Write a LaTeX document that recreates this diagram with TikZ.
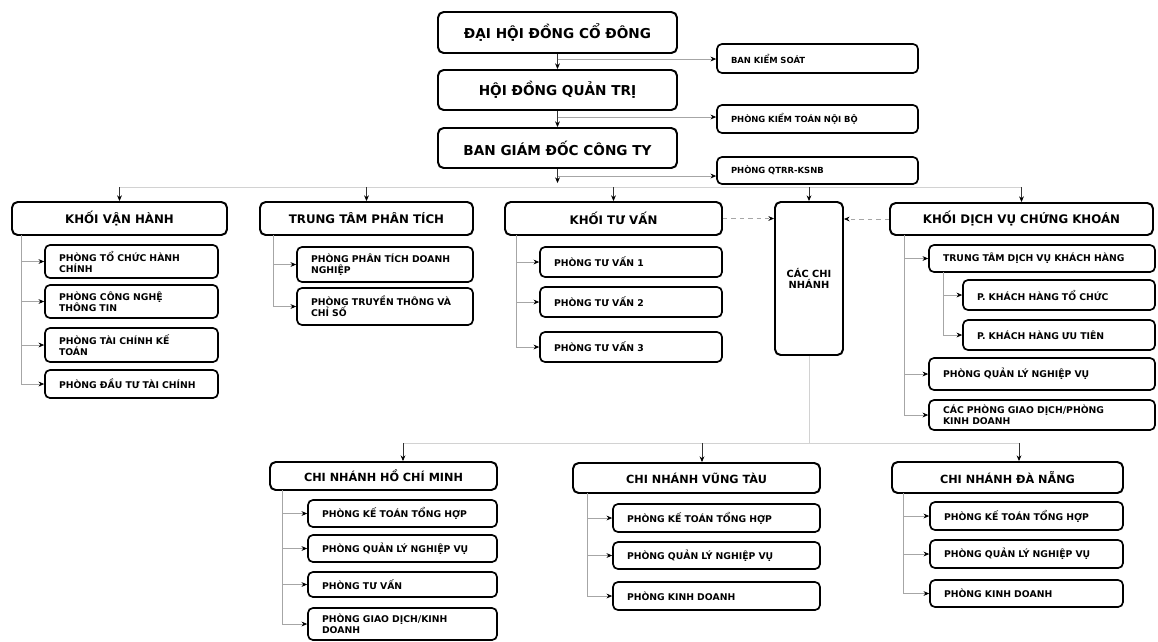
\documentclass[tikz,border=0pt]{standalone}
\usepackage{fontspec}
\setmainfont{DejaVu Sans}
\usetikzlibrary{arrows.meta}

\tikzset{
  unitbox/.style 2 args={draw=black, line width=1.4pt, rounded corners=4pt, fill=white,
    minimum width=#1*0.025cm, minimum height=#2*0.025cm, inner sep=0pt, align=center,
    font=\bfseries\fontsize{8.4}{9.6}\selectfont},
  bigbox/.style 2 args={unitbox={#1}{#2}, font=\bfseries\fontsize{9.7}{11}\selectfont},
  subbox/.style 2 args={draw=black, line width=1.2pt, rounded corners=3.5pt, fill=white,
    text width=#1*0.025cm-0.7cm, minimum height=#2*0.025cm, inner xsep=0.35cm, inner ysep=0pt,
    align=left, font=\bfseries\fontsize{6.6}{7.8}\selectfont},
  small/.style={font=\bfseries\fontsize{6}{7}\selectfont},
  arr/.style={-{Stealth[length=4pt,width=3.4pt,color=black]}, line width=0.5pt, gray!70},
  stub/.style={arr, draw=black!80},
  lnk/.style={line width=0.5pt, gray!70},
  bus/.style={line width=0.6pt, gray!35}
}

\begin{document}
\begin{tikzpicture}[x=0.025cm, y=-0.025cm]
\fill[white] (0,0) rectangle (1158,641);
\useasboundingbox (0,0) rectangle (1158,641);

% top of the company
\node[bigbox={239}{41}] (dhcd) at (557.5,32.5) {ĐẠI HỘI ĐỒNG CỔ ĐÔNG};
\node[bigbox={239}{40}] (hdqt) at (557.5,90) {HỘI ĐỒNG QUẢN TRỊ};
\node[bigbox={239}{40}] (bgd) at (557.5,148) {BAN GIÁM ĐỐC CÔNG TY};

\node[subbox={201}{29}, small] (bks) at (817.5,58.5) {BAN KIỂM SOÁT};
\node[subbox={201}{28}, small] (ktnb) at (817.5,119) {PHÒNG KIỂM TOÁN NỘI BỘ};
\node[subbox={201}{27}, small] (qtrr) at (817.5,170.5) {PHÒNG QTRR-KSNB};

\coordinate (t1) at (557.5,59);
\coordinate (t2) at (557.5,117);
\coordinate (t3) at (557.5,176);
\draw[stub] (dhcd) -- (hdqt);
\draw[stub] (hdqt) -- (bgd);
\draw[stub] (bgd.south) -- (557.5,183);
\draw[arr] (t1) -- (t1 -| bks.west);
\draw[arr] (t2) -- (t2 -| ktnb.west);
\draw[arr] (t3) -- (t3 -| qtrr.west);

% blocks
\node[unitbox={215}{33}] (kvh) at (119.5,218.5) {KHỐI VẬN HÀNH};
\node[unitbox={213}{33}] (ttpt) at (366.5,218.5) {TRUNG TÂM PHÂN TÍCH};
\node[unitbox={217}{33}] (ktv) at (613.5,218.5) {KHỐI TƯ VẤN};
\node[unitbox={68}{153}, font=\bfseries\fontsize{7}{8.4}\selectfont] (ccn) at (809,278.5) {CÁC CHI\\NHÁNH};
\node[unitbox={263}{32}] (kdv) at (1021.5,219) {KHỐI DỊCH VỤ CHỨNG KHOÁN};

\coordinate (bus) at (0,187);
\draw[bus] (kvh.north |- bus) -- (kdv.north |- bus);
\foreach \n in {kvh,ttpt,ktv,ccn,kdv}
  \draw[stub] (\n.north |- bus) -- (\n.north);

\draw[arr, dashed] (ktv.east) -- (ktv.east -| ccn.west);
\draw[arr, dashed] (kdv.west) -- (kdv.west -| ccn.east);

% khoi van hanh
\node[subbox={173}{33}] (kvh1) at (131.5,261.5) {PHÒNG TỔ CHỨC HÀNH\\CHÍNH};
\node[subbox={173}{33}] (kvh2) at (131.5,301.5) {PHÒNG CÔNG NGHỆ\\THÔNG TIN};
\node[subbox={173}{34}] (kvh3) at (131.5,345) {PHÒNG TÀI CHÍNH KẾ\\TOÁN};
\node[subbox={173}{28}] (kvh4) at (131.5,384) {PHÒNG ĐẦU TƯ TÀI CHÍNH};
\coordinate (kvhL) at (21,235);
\draw[lnk] (kvhL) -- (kvhL |- kvh4);
\foreach \s in {kvh1,kvh2,kvh3,kvh4}
  \draw[arr] (kvhL |- \s) -- (\s.west);

% trung tam phan tich
\node[subbox={176}{35}] (pt1) at (385,264.5) {PHÒNG PHÂN TÍCH DOANH\\NGHIỆP};
\node[subbox={176}{37}] (pt2) at (385,306.5) {PHÒNG TRUYỀN THÔNG VÀ\\CHỈ SỐ};
\coordinate (ptL) at (273,235);
\draw[lnk] (ptL) -- (ptL |- pt2);
\foreach \s in {pt1,pt2}
  \draw[arr] (ptL |- \s) -- (\s.west);

% khoi tu van
\node[subbox={182}{30}] (tv1) at (631,262) {PHÒNG TƯ VẤN 1};
\node[subbox={182}{30}] (tv2) at (631,302) {PHÒNG TƯ VẤN 2};
\node[subbox={182}{30}] (tv3) at (631,347) {PHÒNG TƯ VẤN 3};
\coordinate (tvL) at (516,235);
\draw[lnk] (tvL) -- (tvL |- tv3);
\foreach \s in {tv1,tv2,tv3}
  \draw[arr] (tvL |- \s) -- (\s.west);

% khoi dich vu chung khoan
\node[subbox={226}{27}] (dv1) at (1042,258.5) {TRUNG TÂM DỊCH VỤ KHÁCH HÀNG};
\node[subbox={192}{30}] (dv2) at (1059,295) {P. KHÁCH HÀNG TỔ CHỨC};
\node[subbox={192}{30}] (dv3) at (1059,335) {P. KHÁCH HÀNG ƯU TIÊN};
\node[subbox={226}{32}] (dv4) at (1042,374) {PHÒNG QUẢN LÝ NGHIỆP VỤ};
\node[subbox={226}{30}] (dv5) at (1042,415) {CÁC PHÒNG GIAO DỊCH/PHÒNG\\KINH DOANH};
\coordinate (dvL) at (904,235);
\draw[lnk] (dvL) -- (dvL |- dv5);
\foreach \s in {dv1,dv4,dv5}
  \draw[arr] (dvL |- \s) -- (\s.west);
\coordinate (khL) at (943,272);
\draw[lnk] (khL) -- (khL |- dv3);
\foreach \s in {dv2,dv3}
  \draw[arr] (khL |- \s) -- (\s.west);

% chi nhanh
\coordinate (bot) at (0,443);
\coordinate (d1) at (403,443);
\coordinate (d2) at (702,443);
\coordinate (d3) at (1019,443);
\draw[bus] (ccn.south) -- (ccn.south |- bot);
\draw[bus] (d1) -- (d3);

\node[unitbox={227}{28}, font=\bfseries\fontsize{8}{9}\selectfont] (hcm) at (383.5,476) {CHI NHÁNH HỒ CHÍ MINH};
\node[unitbox={247}{30}, font=\bfseries\fontsize{8}{9}\selectfont] (vt) at (696.5,478) {CHI NHÁNH VŨNG TÀU};
\node[unitbox={231}{31}, font=\bfseries\fontsize{8}{9}\selectfont] (dn) at (1007.5,477.5) {CHI NHÁNH ĐÀ NẴNG};
\draw[stub] (d1) -- (d1 |- hcm.north);
\draw[stub] (d2) -- (d2 |- vt.north);
\draw[stub] (d3) -- (d3 |- dn.north);

\node[subbox={189}{27}] (h1) at (402.5,513.5) {PHÒNG KẾ TOÁN TỔNG HỢP};
\node[subbox={189}{27}] (h2) at (402.5,548.5) {PHÒNG QUẢN LÝ NGHIỆP VỤ};
\node[subbox={189}{25}] (h3) at (402.5,584.5) {PHÒNG TƯ VẤN};
\node[subbox={189}{32}] (h4) at (402.5,624) {PHÒNG GIAO DỊCH/KINH\\DOANH};
\coordinate (hL) at (282,490);
\draw[lnk] (hL) -- (hL |- h4);
\foreach \s in {h1,h2,h3,h4}
  \draw[arr] (hL |- \s) -- (\s.west);

\node[subbox={207}{28}] (v1) at (716.5,518) {PHÒNG KẾ TOÁN TỔNG HỢP};
\node[subbox={207}{27}] (v2) at (716.5,555.5) {PHÒNG QUẢN LÝ NGHIỆP VỤ};
\node[subbox={207}{28}] (v3) at (716.5,596) {PHÒNG KINH DOANH};
\coordinate (vL) at (587,493);
\draw[lnk] (vL) -- (vL |- v3);
\foreach \s in {v1,v2,v3}
  \draw[arr] (vL |- \s) -- (\s.west);

\node[subbox={193}{28}] (n1) at (1026.5,516) {PHÒNG KẾ TOÁN TỔNG HỢP};
\node[subbox={193}{28}] (n2) at (1026.5,554) {PHÒNG QUẢN LÝ NGHIỆP VỤ};
\node[subbox={193}{27}] (n3) at (1026.5,593.5) {PHÒNG KINH DOANH};
\coordinate (nL) at (903,493);
\draw[lnk] (nL) -- (nL |- n3);
\foreach \s in {n1,n2,n3}
  \draw[arr] (nL |- \s) -- (\s.west);
\end{tikzpicture}
\end{document}
